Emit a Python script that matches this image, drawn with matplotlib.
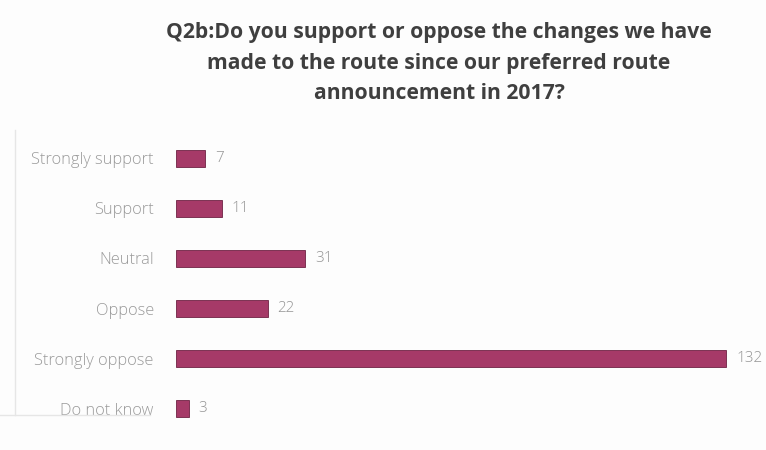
import matplotlib.pyplot as plt

categories = ["Strongly support", "Support", "Neutral", "Oppose", "Strongly oppose", "Do not know"]
counts = [7, 11, 31, 22, 132, 3]

W, H = 766, 450
fig = plt.figure(figsize=(W / 100, H / 100), dpi=100)
fig.patch.set_facecolor("#fdfdfd")

# axes placed in pixel terms: zero line at x=176, rows from y=133 to y=434
ax = fig.add_axes([176 / W, 1 - 434 / H, (W - 176) / W, 301 / H])
ax.set_facecolor("none")

y = range(len(categories))
bars = ax.barh(y, counts, height=0.34, color="#a63a68", edgecolor="#6e2244", linewidth=0.6)
ax.set_xlim(0, (W - 176) / 4.17)
ax.set_ylim(len(categories) - 0.5, -0.5)

for i, v in enumerate(counts):
    ax.text(v + 2.3, i, str(v), va="center", ha="left", fontsize=11,
            color="#959595", family="Open Sans", fontweight="light", clip_on=False)

ax.set_yticks(list(y))
ax.set_yticklabels(categories, fontsize=11.8, color="#9a9a9a", family="Open Sans",
                   fontweight="light")
ax.tick_params(axis="y", length=0, pad=16)
ax.set_xticks([])
for s in ax.spines.values():
    s.set_visible(False)

# thin frame remnants on the left and bottom
fig.add_artist(plt.Line2D([15 / W, 15 / W], [1 - 415 / H, 1 - 130 / H], color="#e6e6e6", lw=1))
fig.add_artist(plt.Line2D([0, 150 / W], [1 - 415 / H, 1 - 415 / H], color="#e6e6e6", lw=1))

fig.text(439 / W, 1 - 63 / H,
         "Q2b:Do you support or oppose the changes we have\n"
         "made to the route since our preferred route\n"
         "announcement in 2017?",
         ha="center", va="center", fontsize=15.2, fontweight="bold",
         color="#3f3f3f", family="Open Sans", linespacing=1.62)

plt.savefig("out.png", dpi=100)
